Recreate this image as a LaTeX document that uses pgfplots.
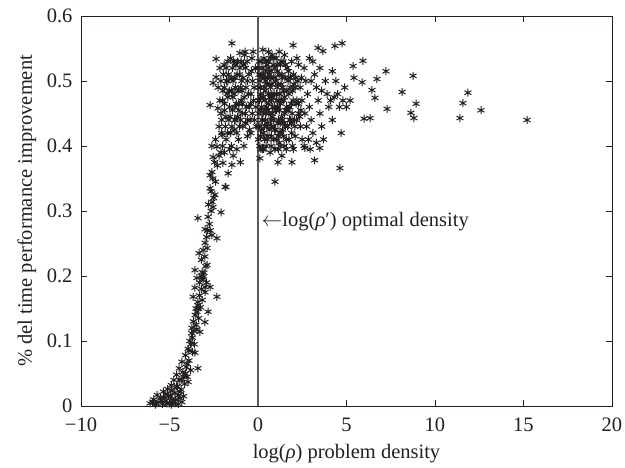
\documentclass[border=0pt]{standalone}
\usepackage{pgfplots}
\pgfplotsset{compat=1.18}
\usepackage{pgfplotstable}
\usepackage{fontspec}
\setmainfont{Liberation Serif}

\definecolor{ink}{HTML}{231F20}

% scatter points: x = log(rho), y = fraction improvement
\pgfplotstableread{
x y
-6.1 0.004
-5.95 0.006
-5.9 0.010
-5.8 0.002
-5.75 0.004
-5.7 0.017
-5.6 0.006
-5.5 0.012
-5.45 0.008
-5.4 0.003
-5.35 0.022
-5.3 0.013
-5.2 0.008
-5.2 0.018
-5.15 0.004
-5.1 0.026
-5.05 0.016
-5.0 0.004
-4.95 0.015
-4.9 0.032
-4.9 0.002
-4.85 0.024
-4.85 0.010
-4.8 0.005
-4.75 0.040
-4.7 0.020
-4.7 0.004
-4.65 0.010
-4.6 0.048
-4.6 0.030
-4.55 0.030
-4.5 0.003
-4.5 0.016
-4.45 0.058
-4.45 0.040
-4.4 0.022
-4.4 0.012
-4.35 0.040
-4.35 0.025
-4.3 0.006
-4.3 0.068
-4.25 0.052
-4.2 0.015
-4.2 0.045
-4.15 0.034
-4.1 0.078
-4.1 0.050
-4.05 0.060
-4.0 0.045
-4.0 0.065
-3.95 0.088
-3.95 0.037
-3.9 0.070
-3.9 0.085
-3.85 0.100
-3.8 0.055
-3.8 0.095
-3.75 0.112
-3.73 0.120
-3.7 0.083
-3.7 0.105
-3.65 0.130
-3.62 0.115
-3.6 0.095
-3.56 0.082
-3.55 0.140
-3.5 0.150
-3.5 0.125
-3.45 0.118
-3.45 0.145
-3.39 0.058
-3.4 0.160
-3.35 0.135
-3.35 0.150
-3.3 0.170
-3.3 0.190
-3.28 0.114
-3.25 0.152
-3.2 0.180
-3.2 0.200
-3.15 0.163
-3.1 0.195
-3.0 0.129
-3.0 0.230
-2.99 0.175
-3.05 0.205
-2.95 0.215
-2.9 0.190
-2.9 0.260
-2.85 0.270
-2.82 0.145
-3.56 0.209
-3.45 0.197
-3.16 0.206
-3.11 0.198
-3.56 0.182
-2.99 0.183
-2.71 0.183
-3.67 0.168
-2.32 0.168
-3.39 0.155
-2.88 0.217
-3.2 0.225
-3.1 0.240
-3.33 0.235
-2.88 0.243
-2.99 0.251
-2.32 0.258
-2.6 0.263
-2.7 0.270
-2.99 0.272
-2.75 0.280
-2.82 0.291
-3.39 0.289
-2.09 0.298
-2.65 0.300
-2.54 0.306
-2.8 0.310
-2.6 0.314
-2.5 0.320
-2.43 0.325
-2.65 0.330
-2.71 0.335
-1.81 0.337
-2.4 0.345
-2.55 0.350
-2.71 0.355
-2.6 0.360
-2.3 0.370
-2.45 0.375
-2.54 0.383
-2.2 0.385
-2.1 0.390
-2.32 0.399
-2.6 0.400
-2.4 0.410
-2.03 0.417
-1.98 0.374
-1.47 0.371
-1.69 0.358
-1.86 0.337
-2.26 0.458
-2.71 0.463
-2.54 0.497
-2.37 0.506
-2.37 0.534
-1.47 0.558
-2.25 0.49
-2.2 0.43
-2.15 0.47
-2.1 0.45
-2.1 0.50
-2.05 0.42
-2.0 0.47
-1.98 0.485
-1.92 0.525
-1.9 0.49
-1.88 0.465
-1.95 0.51
-1.82 0.445
-1.8 0.52
-1.78 0.50
-1.72 0.42
-1.7 0.50
-1.68 0.51
-1.75 0.48
-1.62 0.485
-1.6 0.46
-1.58 0.445
-1.65 0.44
-1.55 0.42
-1.52 0.505
-1.5 0.40
-1.48 0.43
-1.45 0.52
-1.42 0.475
-1.4 0.50
-1.38 0.53
-1.35 0.48
-1.32 0.44
-1.3 0.46
-1.28 0.49
-1.25 0.44
-1.22 0.465
-1.2 0.42
-1.18 0.51
-1.12 0.485
-1.1 0.41
-1.15 0.53
-1.08 0.455
-1.05 0.51
-1.02 0.52
-1.0 0.49
-0.98 0.44
-0.95 0.47
-0.92 0.50
-0.9 0.45
-0.88 0.465
-0.85 0.43
-0.82 0.525
-0.8 0.40
-0.78 0.475
-0.75 0.54
-0.72 0.45
-0.7 0.52
-0.68 0.49
-0.62 0.53
-0.6 0.50
-0.58 0.44
-0.55 0.48
-0.52 0.51
-0.5 0.46
-0.48 0.425
-0.45 0.44
-0.42 0.465
-0.4 0.42
-0.38 0.515
-0.32 0.45
-0.3 0.50
-0.25 0.47
-0.22 0.49
-0.2 0.44
-0.15 0.52
-0.12 0.46
-0.1 0.43
-1.85 0.43
-1.8 0.41
-2.05 0.44
-1.9 0.455
-1.7 0.475
-1.5 0.485
-1.3 0.505
-1.1 0.465
-0.9 0.485
-0.7 0.435
-0.6 0.415
-1.6 0.395
-1.4 0.385
-1.2 0.395
-1.0 0.375
-2.15 0.52
-1.55 0.535
-1.25 0.525
-0.95 0.53
-0.35 0.535
-1.7 0.53
-2.0 0.40
-1.9 0.39
-0.65 0.46
-0.4 0.48
-1.45 0.455
-1.15 0.445
-0.85 0.505
-1.35 0.425
-1.05 0.43
-1.02 0.543
-0.73 0.545
-0.28 0.545
0.28 0.548
0.6 0.545
1.98 0.555
1.5 0.54
0.02 0.41
0.03 0.43
0.04 0.47
0.06 0.51
0.07 0.53
0.05 0.52
0.1 0.50
0.15 0.48
0.2 0.46
0.25 0.44
0.3 0.42
0.1 0.40
0.05 0.45
0.12 0.43
0.13 0.455
0.14 0.49
0.17 0.51
0.18 0.53
0.19 0.425
0.24 0.475
0.27 0.52
0.29 0.45
0.3 0.51
0.33 0.535
0.35 0.49
0.36 0.41
0.37 0.505
0.4 0.47
0.41 0.44
0.44 0.53
0.45 0.45
0.47 0.46
0.49 0.495
0.5 0.43
0.52 0.415
0.54 0.505
0.55 0.41
0.57 0.455
0.59 0.52
0.6 0.53
0.63 0.425
0.65 0.51
0.66 0.475
0.69 0.535
0.7 0.49
0.72 0.44
0.74 0.515
0.75 0.47
0.77 0.43
0.79 0.495
0.8 0.45
0.83 0.46
0.85 0.43
0.86 0.525
0.89 0.44
0.9 0.41
0.91 0.48
0.94 0.425
0.95 0.52
0.97 0.505
0.99 0.455
1.0 0.50
1.02 0.535
1.04 0.41
1.05 0.48
1.07 0.47
1.09 0.525
1.1 0.46
1.12 0.435
1.14 0.495
1.15 0.44
1.17 0.415
1.19 0.51
1.2 0.42
1.22 0.455
1.24 0.48
1.25 0.40
1.27 0.525
1.29 0.42
1.3 0.53
1.32 0.47
1.34 0.445
1.35 0.51
1.37 0.505
1.39 0.425
1.4 0.49
1.43 0.485
1.45 0.47
1.47 0.435
1.5 0.45
1.52 0.505
1.55 0.43
1.57 0.455
1.6 0.41
1.63 0.485
1.65 0.52
1.68 0.43
1.7 0.50
1.72 0.515
1.75 0.48
1.78 0.44
1.8 0.46
1.83 0.505
1.85 0.44
1.88 0.465
1.9 0.42
1.93 0.45
1.95 0.40
1.98 0.47
2.0 0.51
2.03 0.495
2.08 0.43
2.1 0.49
2.13 0.505
2.18 0.44
2.2 0.47
2.28 0.465
2.3 0.45
2.38 0.49
2.4 0.43
2.42 0.455
2.48 0.47
2.5 0.41
0.2 0.505
0.4 0.485
0.6 0.465
0.8 0.445
1.0 0.425
1.2 0.405
0.25 0.395
0.45 0.515
0.65 0.495
0.85 0.475
1.05 0.455
1.25 0.435
1.45 0.415
0.35 0.455
0.55 0.435
0.75 0.415
0.95 0.395
0.15 0.415
0.3 0.475
0.5 0.525
0.7 0.505
0.9 0.535
1.1 0.515
1.3 0.495
1.5 0.475
1.7 0.455
1.9 0.435
2.1 0.415
2.3 0.525
2.45 0.505
1.55 0.525
1.75 0.505
1.95 0.485
2.15 0.465
2.35 0.445
0.05 0.49
0.08 0.47
0.22 0.44
0.38 0.43
0.62 0.45
0.78 0.48
0.92 0.46
1.18 0.47
1.38 0.44
1.62 0.46
1.82 0.49
2.05 0.44
2.25 0.50
0.42 0.50
0.58 0.48
1.08 0.49
1.28 0.465
1.42 0.53
0.88 0.505
0.16 0.395
0.46 0.40
0.74 0.40
1.15 0.395
1.48 0.40
1.75 0.41
0.32 0.395
0.68 0.39
1.6 0.395
2.0 0.395
1.35 0.385
0.8 0.54
1.2 0.545
1.9 0.53
2.2 0.535
0.11 0.381
1.13 0.375
1.92 0.375
0.96 0.345
2.65 0.397
3.5 0.397
3.2 0.378
4.63 0.366
2.6 0.52
2.7 0.50
2.8 0.48
2.9 0.46
3.0 0.44
3.1 0.42
2.65 0.45
2.75 0.43
2.85 0.41
3.2 0.51
3.3 0.49
3.4 0.47
3.5 0.45
3.6 0.43
3.7 0.41
3.8 0.50
3.9 0.48
4.0 0.46
4.1 0.47
4.2 0.44
4.4 0.50
4.5 0.48
4.6 0.46
4.8 0.47
5.0 0.46
3.1 0.53
2.9 0.535
3.5 0.52
4.2 0.515
3.3 0.405
2.6 0.40
4.7 0.42
2.95 0.395
3.0 0.50
3.6 0.485
4.3 0.475
5.2 0.47
4.9 0.49
3.39 0.551
3.67 0.546
4.35 0.554
4.75 0.558
5.37 0.523
5.93 0.531
7.23 0.515
8.76 0.508
5.42 0.505
5.88 0.498
6.72 0.503
6.44 0.486
6.61 0.474
8.14 0.483
8.93 0.465
11.86 0.482
11.58 0.466
12.60 0.455
11.41 0.443
15.20 0.440
7.29 0.457
8.64 0.451
8.81 0.443
5.99 0.442
6.33 0.443
}\density

\begin{document}
\begin{tikzpicture}
\useasboundingbox (-81pt,-62pt) rectangle (544pt,406pt);
\begin{axis}[
    scale only axis,
    width=531pt,
    height=390pt,
    at={(0,0)}, anchor=south west,
    xmin=-10, xmax=20,
    ymin=0, ymax=0.6,
    xtick={-10,-5,0,5,10,15,20},
    xticklabels={−10,−5,0,5,10,15,20},
    ytick={0,0.1,0.2,0.3,0.4,0.5,0.6},
    yticklabels={0,0.1,0.2,0.3,0.4,0.5,0.6},
    tick align=inside,
    major tick length=6pt,
    axis line style={ink, line width=0.9pt},
    every tick/.style={ink, line width=0.9pt},
    tick label style={font=\fontsize{20.5}{24}\selectfont, text=ink},
    xticklabel style={anchor=center, yshift=-19pt},
    yticklabel style={anchor=east, xshift=-5pt},
    label style={font=\fontsize{20.5}{24}\selectfont, text=ink},
    xlabel style={at={(axis description cs:0.5,-0.123)}, anchor=center},
    ylabel style={at={(axis description cs:-0.102,0.5)}, anchor=center},
    xlabel={log(\textit{ρ}) problem density},
    ylabel={\% del time performance improvement},
    clip=false,
]
    \addplot[only marks, mark=asterisk, mark size=4pt, ink, line width=1pt]
        table[x=x, y=y] {\density};
    \addplot[black!65, line width=1.3pt] coordinates {(0,0) (0,0.6)};
    \node[anchor=west, inner sep=0pt, text=ink, font=\fontsize{20.5}{24}\selectfont]
        at (axis cs:0.2,0.283) {$\leftarrow$log(\textit{ρ}′) optimal density};
\end{axis}
\end{tikzpicture}
\end{document}
